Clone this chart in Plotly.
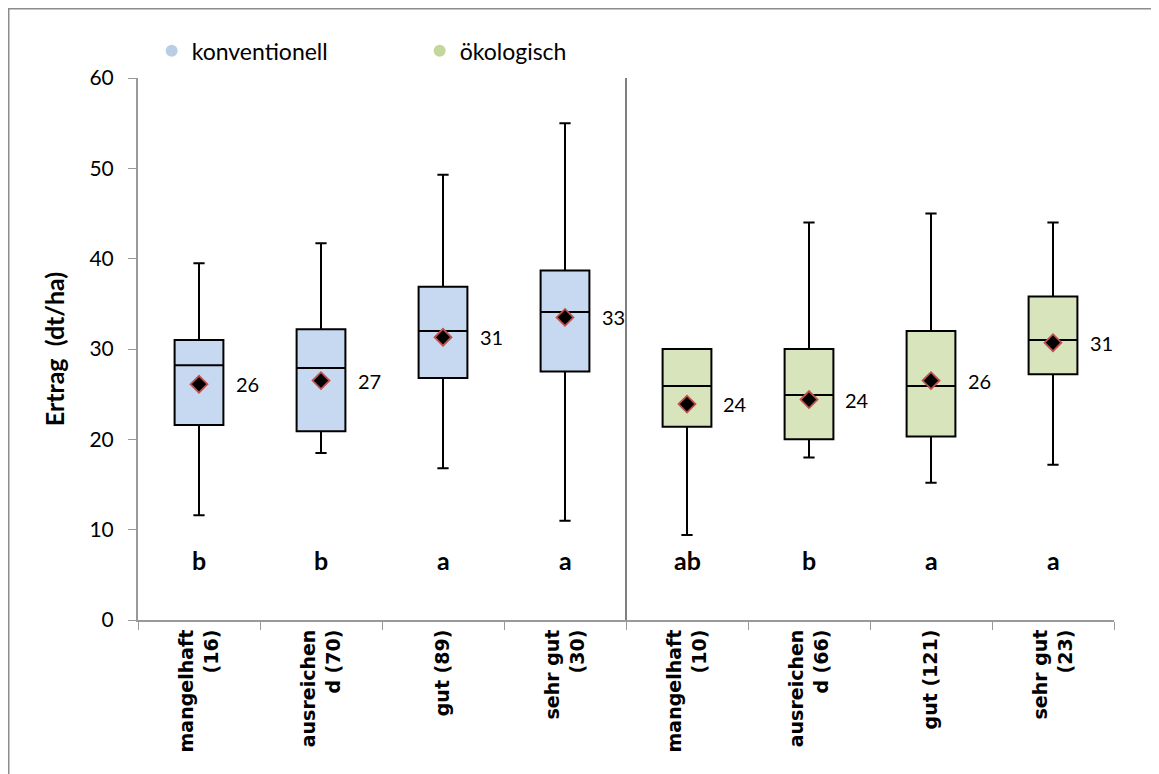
import plotly.graph_objects as go

categories = ["mangelhaft<br>(16)", "ausreichen<br>d (70)", "gut (89)", "sehr gut<br>(30)",
              "mangelhaft<br>(10)", "ausreichen<br>d (66)", "gut (121)", "sehr gut<br>(23)"]
groups = ["konventionell"] * 4 + ["ökologisch"] * 4

lower = [11.6, 18.5, 16.8, 11.0, 9.4, 18.0, 15.2, 17.2]
q1 = [21.6, 20.9, 26.8, 27.5, 21.4, 20.0, 20.3, 27.2]
median = [28.2, 27.9, 32.0, 34.1, 25.9, 24.9, 25.9, 31.0]
q3 = [31.0, 32.2, 36.9, 38.7, 30.0, 30.0, 32.0, 35.8]
upper = [39.5, 41.7, 49.3, 55.0, 30.0, 44.0, 45.0, 44.0]
mean = [26.1, 26.5, 31.3, 33.5, 23.9, 24.4, 26.5, 30.7]
mean_labels = ["26", "27", "31", "33", "24", "24", "26", "31"]
letters = ["b", "b", "a", "a", "ab", "b", "a", "a"]
letter_y = 6.6

fill = {"konventionell": "#C6D9F0", "ökologisch": "#D7E4BC"}
legend_col = {"konventionell": "#B9CDE5", "ökologisch": "#C3D69B"}

fig = go.Figure()

for g in ["konventionell", "ökologisch"]:
    idx = [i for i, gg in enumerate(groups) if gg == g]
    fig.add_trace(go.Box(
        x=[categories[i] for i in idx],
        q1=[q1[i] for i in idx], median=[median[i] for i in idx], q3=[q3[i] for i in idx],
        lowerfence=[lower[i] for i in idx], upperfence=[upper[i] for i in idx],
        fillcolor=fill[g], line=dict(color="black", width=2),
        width=0.4, whiskerwidth=0.23, showlegend=False, hoverinfo="skip",
    ))

fig.add_trace(go.Scatter(
    x=categories, y=mean, mode="markers",
    marker=dict(symbol="diamond", size=13, color="black", line=dict(color="#C0504D", width=1.8)),
    showlegend=False, hoverinfo="skip",
))

for g in ["konventionell", "ökologisch"]:
    fig.add_trace(go.Scatter(
        x=[None], y=[None], mode="markers", name=g,
        marker=dict(symbol="circle", size=14, color=legend_col[g]),
    ))

for c, m, t in zip(categories, mean, mean_labels):
    fig.add_annotation(x=c, y=m, text=t, showarrow=False, xshift=48,
                       font=dict(family="Lato", size=20, color="black"))
for c, t in zip(categories, letters):
    fig.add_annotation(x=c, y=letter_y, text="<b>" + t + "</b>", showarrow=False,
                       font=dict(family="Lato", size=25, color="black"))

# separator between groups
fig.add_shape(type="line", xref="x", yref="y", x0=3.5, x1=3.5, y0=0, y1=60.3,
              line=dict(color="#7F7F7F", width=2))
# outer frame
fig.add_shape(type="rect", xref="paper", yref="paper",
              x0=-0.1327, x1=1.06, y0=-0.35, y1=1.128,
              line=dict(color="#8C8C8C", width=2), layer="below")

fig.update_layout(
    width=1151, height=766,
    margin=dict(l=130, r=45, t=70, b=154),
    paper_bgcolor="white", plot_bgcolor="white",
    boxmode="overlay",
    legend=dict(orientation="h", x=0.014, y=1.05, xanchor="left", yanchor="middle",
                bgcolor="rgba(0,0,0,0)",
                font=dict(family="Lato", size=23, color="black"),
                entrywidth=223, entrywidthmode="pixels", itemsizing="constant"),
    xaxis=dict(type="category", categoryorder="array", categoryarray=categories,
               range=[-0.5, 7.5], tickson="boundaries", ticks="outside", ticklen=8,
               tickcolor="#999999", showline=True, linecolor="#999999", linewidth=2,
               tickangle=-90, showgrid=False, zeroline=False, automargin=False,
               tickfont=dict(family="DejaVu Sans", size=19, color="black", weight="bold")),
    yaxis=dict(range=[0, 60], tickvals=[0, 10, 20, 30, 40, 50, 60], ticks="outside", ticklen=8,
               tickcolor="#999999", showline=True, linecolor="#999999", linewidth=2,
               showgrid=False, zeroline=False, automargin=False, ticklabelstandoff=10,
               tickfont=dict(family="Lato", size=21, color="black"),
               title=dict(text="<b>Ertrag  (dt/ha)</b>", standoff=18,
                          font=dict(family="Lato", size=25, color="black"))),
)

fig.write_html("out.html")
